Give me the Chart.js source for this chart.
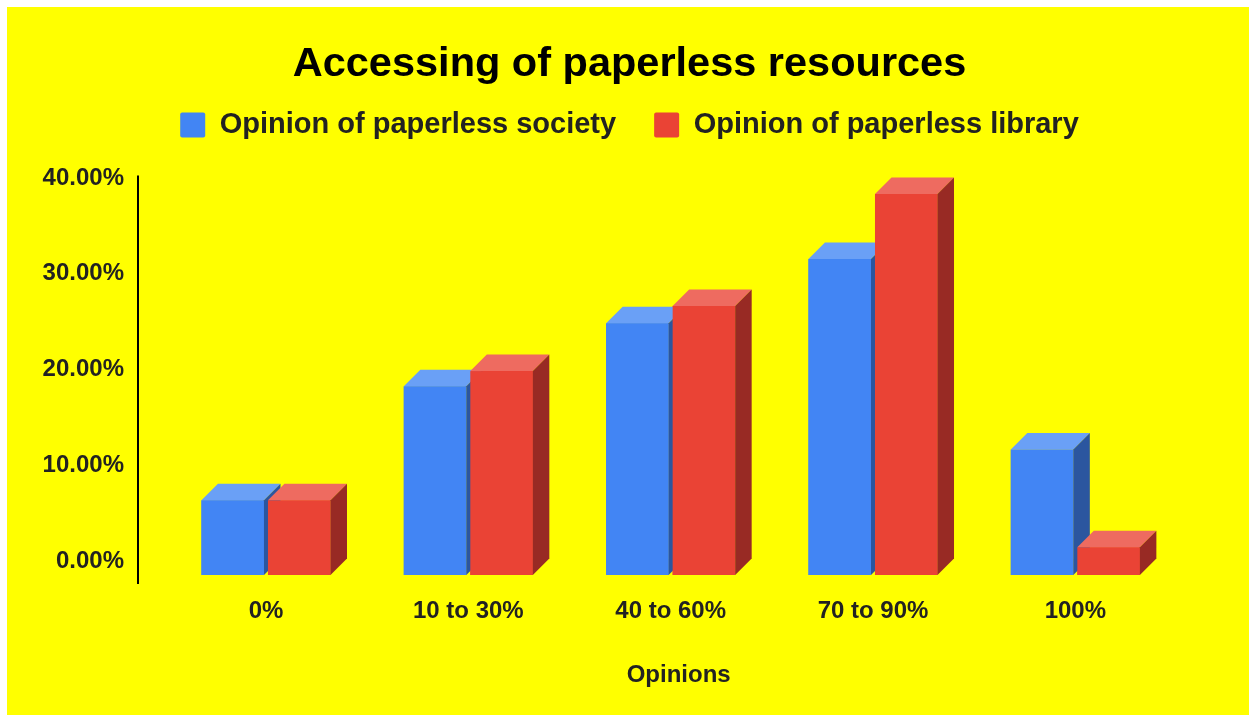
<!DOCTYPE html>
<html>
<head>
<meta charset="utf-8">
<title>Accessing of paperless resources</title>
<script src="https://cdn.jsdelivr.net/npm/chart.js@4.4.0/dist/chart.umd.min.js"></script>
<style>
  html, body { margin: 0; padding: 0; background: #ffffff; overflow: hidden; }
  #paper { position: absolute; left: 7px; top: 7px; right: 0; bottom: 0; background: #ffff00; }
  #myChart { position: absolute; left: 0; top: 0; }
</style>
</head>
<body>
<div id="paper"></div>
<canvas id="myChart" width="1249" height="715"></canvas>
<script>
'use strict';
/*---------------------------------*/
/*-------------Chart Data----------*/
/*---------------------------------*/
let opinionLabels = ['0%', '10 to 30%', '40 to 60%', '70 to 90%', '100%'];
let societyValues = [7.8, 19.7, 26.3, 33.0, 13.1];
let libraryValues = [7.8, 21.3, 28.1, 39.8, 2.9];
let yTicks = [0, 10, 20, 30, 40];
let xAxisTitle = 'Opinions';

/*---------------------------------*/
/*------------Look & Feel----------*/
/*---------------------------------*/
let fontFamily = '"Liberation Sans", Arial, Helvetica, sans-serif';
let depth = 16.5; // how far the bar tops/sides reach back
let faceColors = {
  society: { front: '#4285f4', top: '#6aa0f6', side: '#2b569f' },
  library: { front: '#ea4335', top: '#ee6b60', side: '#982a24' },
};

/*---------------------------------*/
/*--------3D Bar Faces Plugin------*/
/*---------------------------------*/
// Chart.js only draws flat bars, so paint a top and side face onto each one.
let bars3d = {
  id: 'bars3d',
  afterDatasetsDraw(chart) {
    let ctx = chart.ctx;
    let base = chart.scales.y.getPixelForValue(0);
    ctx.save();
    chart.data.datasets.forEach((ds, i) => {
      let meta = chart.getDatasetMeta(i);
      let colors = faceColors[ds.key];
      meta.data.forEach(bar => {
        let props = bar.getProps(['x', 'y', 'width'], true);
        let left = props.x - props.width / 2;
        let right = props.x + props.width / 2;
        let top = props.y;
        // front face
        ctx.fillStyle = colors.front;
        ctx.fillRect(left, top, props.width, base - top);
        // top face
        ctx.fillStyle = colors.top;
        ctx.beginPath();
        ctx.moveTo(left, top);
        ctx.lineTo(right, top);
        ctx.lineTo(right + depth, top - depth);
        ctx.lineTo(left + depth, top - depth);
        ctx.closePath();
        ctx.fill();
        // side face
        ctx.fillStyle = colors.side;
        ctx.beginPath();
        ctx.moveTo(right, top);
        ctx.lineTo(right + depth, top - depth);
        ctx.lineTo(right + depth, base - depth);
        ctx.lineTo(right, base);
        ctx.closePath();
        ctx.fill();
      });
    });
    ctx.restore();
  },
  afterDraw(chart) {
    let ctx = chart.ctx;
    let yScale = chart.scales.y;
    let area = chart.chartArea;
    ctx.save();
    // vertical axis line left of the bars
    let x = area.left - 26.8;
    ctx.strokeStyle = '#000000';
    ctx.lineWidth = 2;
    ctx.beginPath();
    ctx.moveTo(x, yScale.getPixelForValue(yTicks[yTicks.length - 1]) - depth);
    ctx.lineTo(x, area.bottom + 9);
    ctx.stroke();
    // horizontal axis title, centred a little right like the original
    ctx.fillStyle = '#222222';
    ctx.font = 'bold 24px ' + fontFamily;
    ctx.textAlign = 'center';
    ctx.textBaseline = 'middle';
    ctx.fillText(xAxisTitle, (area.left + area.right) / 2 + 8, area.bottom + 100);
    ctx.restore();
  },
};

/*---------------------------------*/
/*---------Legend Spacing----------*/
/*---------------------------------*/
// Leave a gap under the legend before the plot starts.
let legendGap = {
  id: 'legendGap',
  beforeInit(chart) {
    let originalFit = chart.legend.fit;
    chart.legend.fit = function fit() {
      originalFit.bind(chart.legend)();
      this.height += 42.6;
    };
  },
};

/*---------------------------------*/
/*----------ChartJS Render---------*/
/*---------------------------------*/
function renderChart() {
  const data = {
    labels: opinionLabels,
    datasets: [
      {
        key: 'society',
        label: 'Opinion of paperless society',
        data: societyValues,
        backgroundColor: faceColors.society.front,
        borderWidth: 0,
      },
      {
        key: 'library',
        label: 'Opinion of paperless library',
        data: libraryValues,
        backgroundColor: faceColors.library.front,
        borderWidth: 0,
      },
    ],
  };

  const config = {
    type: 'bar',
    data: data,
    options: {
      responsive: false,
      animation: false,
      devicePixelRatio: 1,
      categoryPercentage: 0.6575,
      barPercentage: 0.94,
      layout: {
        // bottom room holds the axis title drawn by the plugin
        padding: { left: 40.8, right: 30.8, top: 0, bottom: 67.2 },
      },
      plugins: {
        title: {
          display: true,
          text: 'Accessing of paperless resources',
          color: '#000000',
          font: { family: fontFamily, size: 41.5, weight: 'bold', lineHeight: 0.4 },
          padding: { top: 55.8, bottom: 0 },
        },
        legend: {
          display: true,
          position: 'top',
          labels: {
            color: '#222222',
            font: { family: fontFamily, size: 29, weight: 'bold' },
            boxWidth: 25,
            boxHeight: 25,
            padding: 38,
            useBorderRadius: true,
            borderRadius: 2,
          },
        },
        tooltip: { enabled: false },
      },
      scales: {
        x: {
          grid: { display: false, drawTicks: false },
          border: { display: false },
          ticks: {
            color: '#222222',
            font: { family: fontFamily, size: 24, weight: 'bold' },
            padding: 22,
            maxRotation: 0,
            autoSkip: false,
          },
        },
        y: {
          min: yTicks[0],
          max: yTicks[yTicks.length - 1],
          grid: { display: false, drawTicks: false },
          border: { display: false },
          afterBuildTicks(scale) {
            scale.ticks = yTicks.map(v => ({ value: v }));
          },
          afterFit(scale) {
            scale.width = 124;
          },
          ticks: {
            color: '#222222',
            font: { family: fontFamily, size: 24, weight: 'bold' },
            padding: 40.8,
            labelOffset: -14,
            callback: value => value.toFixed(2) + '%',
          },
        },
        // empty strip on the right so the plot sits where the original does
        gap: {
          type: 'linear',
          position: 'right',
          grid: { display: false, drawTicks: false },
          border: { display: false },
          ticks: { display: false },
          afterFit(scale) {
            scale.width = 41.7;
          },
        },
      },
    },
    plugins: [bars3d, legendGap],
  };
  const myChart = new Chart(document.getElementById('myChart'), config);
}
renderChart();
</script>
</body>
</html>
